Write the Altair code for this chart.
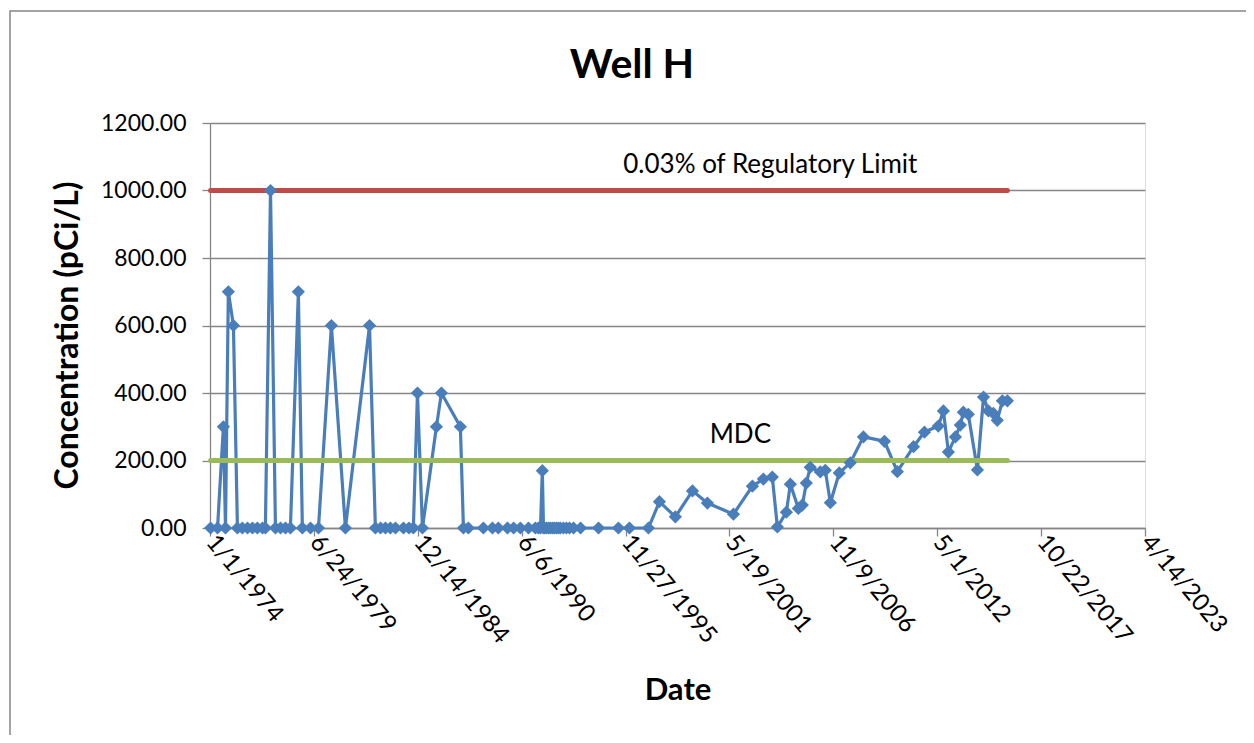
import altair as alt
import pandas as pd

# ---- data ----
sample_dates = [
    "1974-01-12", "1974-05-26", "1974-09-16", "1974-10-26", "1974-12-20",
    "1975-03-28", "1975-06-13", "1975-09-16", "1975-12-24", "1976-03-29",
    "1976-07-01", "1976-10-08", "1976-12-02", "1977-03-11", "1977-06-14",
    "1977-09-20", "1977-12-24", "1978-03-29", "1978-08-29", "1978-11-14",
    "1979-04-19", "1979-09-20", "1980-05-26", "1981-02-20", "1982-05-30",
    "1982-09-20", "1982-12-28", "1983-04-02", "1983-07-05", "1983-10-12",
    "1984-03-14", "1984-06-28", "1984-09-20", "1984-12-08", "1985-03-14",
    "1985-12-08", "1986-03-14", "1987-03-14", "1987-05-12", "1987-08-15",
    "1988-05-30", "1988-11-20", "1989-03-14", "1989-09-05", "1990-01-01",
    "1990-05-12", "1990-10-15", "1991-02-24", "1991-04-23", "1991-06-03",
    "1991-07-09", "1991-07-31", "1991-08-18", "1991-09-24", "1991-11-03",
    "1991-12-09", "1992-01-18", "1992-02-24", "1992-04-05", "1992-05-15",
    "1992-06-21", "1992-08-18", "1992-10-15", "1992-12-13", "1993-02-28",
    "1993-07-13", "1994-06-25", "1995-07-13", "1996-02-10", "1997-02-10",
    "1997-09-09", "1998-07-13", "1999-06-07", "2000-03-21", "2001-08-04",
    "2002-08-04", "2003-03-03", "2003-08-22", "2003-11-28", "2004-05-19",
    "2004-08-04", "2005-01-05", "2005-03-22", "2005-06-07", "2005-08-22",
    "2006-03-03", "2006-06-07", "2006-09-13", "2007-03-03", "2007-10-01",
    "2008-06-10", "2009-07-20", "2010-03-25", "2011-01-30", "2011-08-29",
    "2012-05-22", "2012-08-28", "2012-12-02", "2013-04-16", "2013-07-20",
    "2013-09-16", "2013-12-20", "2014-06-14", "2014-10-09", "2015-01-12",
    "2015-04-16", "2015-07-01", "2015-10-08", "2016-01-12",
]
concentration = [
    0, 0, 300, 0, 700,
    600, 0, 0, 0, 0,
    0, 0, 0, 1000, 0,
    0, 0, 0, 700, 0,
    0, 0, 600, 0, 600,
    0, 0, 0, 0, 0,
    0, 0, 0, 400, 0,
    300, 400, 300, 0, 0,
    0, 0, 0, 0, 0,
    0, 0, 0, 0, 0,
    170, 0, 0, 0, 0,
    0, 0, 0, 0, 0,
    0, 0, 0, 0, 0,
    0, 0, 0, 0, 0,
    78, 33, 110, 74, 41,
    124, 145, 151, 3, 47,
    130, 58, 68, 133, 180,
    166, 171, 75, 163, 193,
    270, 257, 167, 241, 284,
    302, 347, 225, 270, 305,
    343, 337, 172, 388, 347,
    340, 319, 377, 377,
]

ref_names = ["0.03% of Regulatory Limit", "MDC"]
ref_values = [1000, 200]
ref_colors = ["#be4b48", "#9bbb59"]
ref_start = "1974-01-12"
ref_end = "2016-01-12"
ref_label_dates = ["2003-07-15", "2001-12-15"]

chart_title = "Well H"

tick_dates = [
    (1974, 1, 1), (1979, 6, 24), (1984, 12, 14), (1990, 6, 6), (1995, 11, 27),
    (2001, 5, 19), (2006, 11, 9), (2012, 5, 1), (2017, 10, 22), (2023, 4, 14),
]
y_ticks = [0, 200, 400, 600, 800, 1000, 1200]

# ---- tables ----
df = pd.DataFrame({"Date": sample_dates, "Conc": concentration})
ref_rows = []
for n, v, c in zip(ref_names, ref_values, ref_colors):
    ref_rows.append({"name": n, "Date": ref_start, "Conc": v, "color": c})
    ref_rows.append({"name": n, "Date": ref_end, "Conc": v, "color": c})
ref_df = pd.DataFrame(ref_rows)
lab_df = pd.DataFrame({"name": ref_names, "Date": ref_label_dates, "Conc": ref_values})

FONT = "Lato"
GRAY = "#868686"
BLUE = "#4a7ebb"

x_scale = alt.Scale(
    type="utc",
    domain=[alt.DateTime(year=1974, month=1, date=1, utc=True),
            alt.DateTime(year=2023, month=4, date=14, utc=True)],
)
y_scale = alt.Scale(domain=[0, 1200], nice=False)

x_axis = alt.Axis(
    values=[alt.DateTime(year=y, month=m, date=d, utc=True) for y, m, d in tick_dates],
    labelExpr="utcFormat(datum.value, '%-m/%-d/%Y')",
    labelAngle=50, labelAlign="left", labelBaseline="middle",
    labelFont=FONT, labelFontSize=24, labelColor="black", labelPadding=2,
    labelOverlap=False, labelFlush=False, labelBound=False,
    grid=False, tickColor=GRAY, tickSize=8, tickWidth=1.3,
    domainColor=GRAY, domainWidth=1.3,
    title="Date", titleFont=FONT, titleFontSize=31, titleFontWeight="bold",
    titleColor="black", titlePadding=28,
)
y_axis = alt.Axis(
    values=y_ticks, format=".2f",
    labelFont=FONT, labelFontSize=23, labelColor="black", labelPadding=16,
    grid=True, gridColor=GRAY, gridWidth=1.3,
    tickColor=GRAY, tickSize=8, tickWidth=1.3,
    domainColor=GRAY, domainWidth=1.3,
    title="Concentration (pCi/L)", titleFont=FONT, titleFontSize=32,
    titleFontWeight="bold", titleColor="black", titlePadding=16, titleY=212,
)

x_enc = alt.X("Date:T", scale=x_scale)
y_enc = alt.Y("Conc:Q", scale=y_scale)

frame = alt.Chart(pd.DataFrame({"k": [0]})).mark_rect(
    fillOpacity=0, stroke=GRAY, strokeWidth=1.5
).encode(
    x=alt.value(-200), x2=alt.value(1200), y=alt.value(-112), y2=alt.value(900)
)

title_mark = alt.Chart(pd.DataFrame({"t": [chart_title]})).mark_text(
    font=FONT, fontSize=41, fontWeight="bold", color="black",
    baseline="alphabetic", align="center"
).encode(x=alt.value(422), y=alt.value(-45), text="t:N")

ref_lines = alt.Chart(ref_df).mark_line(strokeWidth=5, strokeCap="round").encode(
    x=x_enc, y=y_enc,
    color=alt.Color("color:N", scale=None),
    detail="name:N",
)

ref_labels = alt.Chart(lab_df).mark_text(
    font=FONT, fontSize=26, color="black", dy=-26
).encode(x=x_enc, y=y_enc, text="name:N")

series_line = alt.Chart(df).mark_line(color=BLUE, strokeWidth=3.2).encode(
    x=alt.X("Date:T", scale=x_scale, axis=x_axis),
    y=alt.Y("Conc:Q", scale=y_scale, axis=y_axis),
)
series_pts = alt.Chart(df).mark_point(
    shape="diamond", filled=True, size=175, color=BLUE, opacity=1
).encode(x=x_enc, y=y_enc)

chart = alt.layer(frame, title_mark, series_line, ref_lines, series_pts, ref_labels).properties(
    width=935, height=405,
    autosize=alt.AutoSizeParams(type="none"),
    padding={"left": 202, "top": 115, "right": 101, "bottom": 207},
).configure_view(stroke=None).configure(background="white")

chart.save("out.html", embed_options={"renderer": "svg", "actions": False})
